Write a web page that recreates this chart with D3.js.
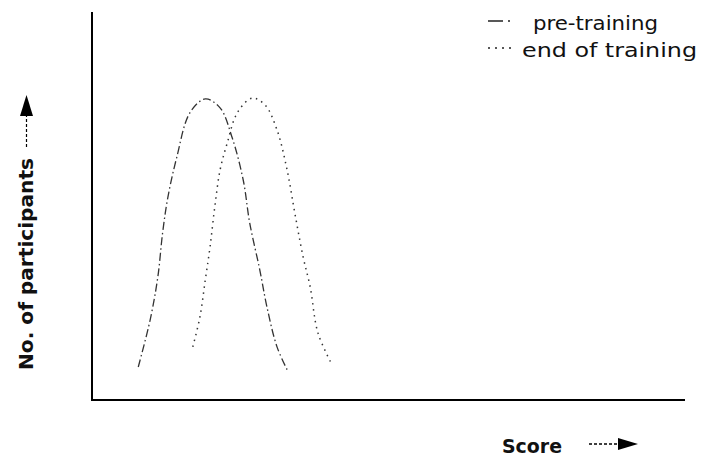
<!DOCTYPE html>
<html><head><meta charset="utf-8">
<script src="https://cdn.jsdelivr.net/npm/d3@7"></script>
<style>body{margin:0;background:#fff}svg{display:block}</style>
</head><body>
<svg id="c" width="703" height="457"></svg>
<script>
const series = ["pre-training", "end of training"];
const preScore = [7.8, 9.8, 11.1, 11.9, 12.8, 14.3, 16.5, 19.1, 21.6, 23.6, 25.5, 26.6, 28.3, 29.5, 31.2, 33.1];
const preCount = [8.5, 20.6, 31.7, 43.0, 52.3, 62.6, 74.0, 77.6, 75.3, 67.8, 56.7, 45.6, 33.5, 24.0, 13.7, 7.2];
const endScore = [17.0, 18.2, 19.1, 19.9, 20.7, 21.6, 22.8, 24.5, 27.0, 29.2, 31.2, 32.9, 34.2, 35.6, 36.8, 38.1, 40.5];
const endCount = [13.7, 21.4, 30.9, 39.4, 49.7, 59.3, 66.2, 74.0, 77.8, 76.0, 69.6, 59.3, 48.2, 36.9, 29.1, 17.3, 9.0];
const xTitle = "Score";
const yTitle = "No. of participants";

const svg = d3.select("#c");
const x = d3.scaleLinear().domain([0, 100]).range([92, 685]);
const y = d3.scaleLinear().domain([0, 100]).range([400, 12]);
const FONT = "'DejaVu Sans Condensed','DejaVu Sans',sans-serif";

// axes
svg.append("line").attr("x1",x(0)).attr("x2",x(0)).attr("y1",y(100)).attr("y2",y(0)).attr("stroke","#000").attr("stroke-width",2);
svg.append("line").attr("x1",x(0)-1).attr("x2",x(100)).attr("y1",y(0)).attr("y2",y(0)).attr("stroke","#000").attr("stroke-width",2);

const line = d3.line().x(d=>x(d[0])).y(d=>y(d[1])).curve(d3.curveCatmullRom);
const pre = preScore.map((s,i)=>[s,preCount[i]]);
const end = endScore.map((s,i)=>[s,endCount[i]]);
const styles = [{dash:"8,3,1.5,3", w:1.3}, {dash:"1.5,4.5", w:1.5}];

svg.append("path").datum(pre).attr("d",line).attr("fill","none").attr("stroke","#333")
  .attr("stroke-width",styles[0].w).attr("stroke-dasharray",styles[0].dash);
svg.append("path").datum(end).attr("d",line).attr("fill","none").attr("stroke","#333")
  .attr("stroke-width",styles[1].w).attr("stroke-dasharray",styles[1].dash);

// legend
const lg = svg.append("g").attr("font-family",FONT).attr("font-size",20).attr("fill","#111");
const legY = [30, 57];
const legX = [533, 522];
const legW = [125, 175];
series.forEach((s,i)=>{
  const yy = legY[i] - 9;
  lg.append("line").attr("x1",488).attr("x2",512).attr("y1",yy).attr("y2",yy)
    .attr("stroke","#222").attr("stroke-width",1.5).attr("stroke-dasharray",i? "2,5" : "15,5,2,10");
  lg.append("text").attr("x", legX[i]).attr("y", legY[i]).attr("textLength",legW[i]).attr("lengthAdjust","spacingAndGlyphs").text(s);
});

// axis titles
svg.append("text").attr("transform","translate(33,370) rotate(-90)").attr("font-family",FONT)
  .attr("font-weight","bold").attr("font-size",20).attr("fill","#111")
  .attr("textLength",212).attr("lengthAdjust","spacingAndGlyphs").text(yTitle);
svg.append("line").attr("x1",26.5).attr("x2",26.5).attr("y1",147).attr("y2",114).attr("stroke","#000").attr("stroke-width",1.2)
  .attr("stroke-dasharray","3,2");
svg.append("path").attr("d","M20,116L33,116L26.5,95Z").attr("fill","#000");

svg.append("text").attr("x",502).attr("y",453).attr("font-family",FONT)
  .attr("font-weight","bold").attr("font-size",20).attr("fill","#111")
  .attr("textLength",60).attr("lengthAdjust","spacingAndGlyphs").text(xTitle);
svg.append("line").attr("x1",589).attr("x2",619).attr("y1",444).attr("y2",444).attr("stroke","#000").attr("stroke-width",1.3)
  .attr("stroke-dasharray","3,2");
svg.append("path").attr("d","M618,438L638,444L618,450Z").attr("fill","#000");
</script>
</body></html>
